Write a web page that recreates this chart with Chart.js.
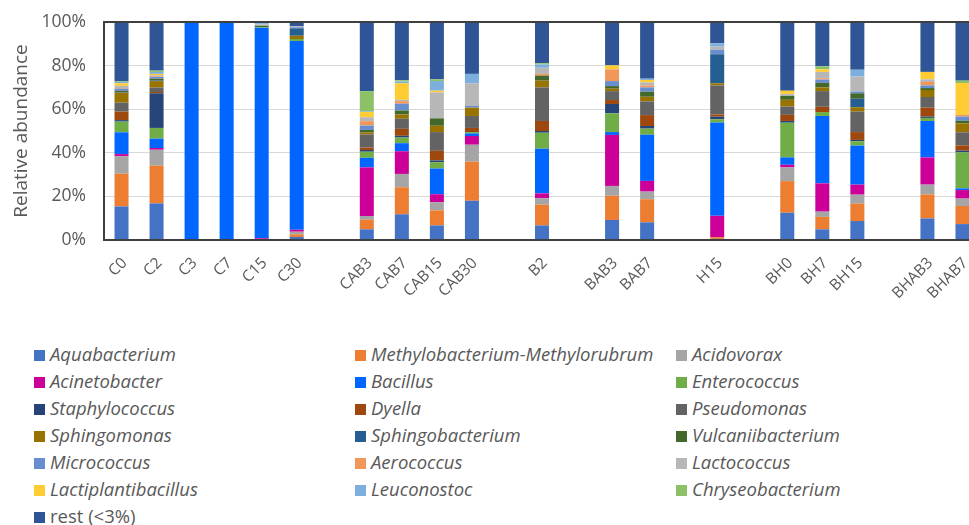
<!DOCTYPE html>
<html>
<head>
<meta charset="utf-8">
<script src="https://cdn.jsdelivr.net/npm/chart.js@4"></script>
<style>
  html, body { margin:0; padding:0; background:#ffffff; width:969px; height:525px; overflow:hidden; }
  #wrap { position:absolute; left:0; top:0; width:985px; height:330px; }
  #legend { position:absolute; left:0; top:340px; width:969px; font-family:"Open Sans", sans-serif; font-size:18.5px; color:#595959; }
  .item { position:absolute; height:27px; line-height:27px; white-space:nowrap; font-style:italic; }
  .item.plain { font-style:normal; }
  .box { display:inline-block; width:11px; height:11px; margin-right:5px; vertical-align:0px; }
</style>
</head>
<body>
<div id="wrap"><canvas id="c" width="985" height="330"></canvas></div>
<div id="legend"></div>
<script>
// categories ("" = empty gap slot)
const categories = ["C0","C2","C3","C7","C15","C30","","CAB3","CAB7","CAB15","CAB30","","B2","","BAB3","BAB7","","H15","","BH0","BH7","BH15","","BHAB3","BHAB7"];
const yTicks = [0,20,40,60,80,100];

const aquabacterium       = [15.4,16.8,0,0,0,1.4,null,4.9,11.8,6.7,18,null,6.7,null,9.2,8.1,null,0.5,null,12.5,4.9,8.7,null,9.9,7.3];
const methylobacterium    = [15,17.3,0.3,0,0,1.2,null,4.4,12.4,6.9,17.9,null,9.5,null,11.1,10.6,null,0.8,null,14.5,5.7,8,null,11,8.3];
const acidovorax          = [8,7.3,0,0,0,1.2,null,1.7,6.1,3.7,7.8,null,2.9,null,4.5,3.5,null,0,null,6.3,2.4,4.1,null,4.5,3.4];
const acinetobacter       = [1,0.8,0,0,0.8,0.9,null,22.3,10.4,3.7,4,null,2.3,null,23.4,4.9,null,9.8,null,1.2,13,4.6,null,12.5,3.9];
const bacillus            = [10,4.3,99.3,99.8,96.6,86.6,null,4.4,3.7,11.8,1.2,null,20.5,null,1.3,21.2,null,42.8,null,3.4,30.9,17.9,null,16.7,0.8];
const enterococcus        = [4.9,4.9,0,0,0.3,0.9,null,2.8,2.6,2.9,0.6,null,7.3,null,8.6,2.8,null,1.5,null,15.9,1.8,2,null,1.4,16.5];
const staphylococcus      = [0.7,15.9,0,0,0,0,null,0.8,0.8,0.8,0,null,0.8,null,4.3,1.2,null,1.2,null,0.8,0,0.6,null,0.6,0.8];
const dyella              = [3.9,0.6,0,0,0,0,null,1.1,3.2,4.4,1.9,null,4.6,null,1.8,5,null,1,null,2.8,2.4,3.6,null,4.1,2.4];
const pseudomonas         = [4.1,2,0,0,0,0,null,6,4.6,8.6,5.5,null,15.4,null,4.1,6.3,null,13.3,null,3.8,7.2,9.4,null,4.9,6];
const sphingomonas        = [4.6,3,0,0,0,1.5,null,0.9,2,2.9,3.8,null,3.1,null,1.1,2.1,null,1,null,3.1,1.7,2,null,3.2,4.1];
const sphingobacterium    = [0.3,0.3,0,0,0,3.4,null,0,0,0,0,null,0,null,0,0,null,13.3,null,0,0,3.9,null,0,0];
const vulcaniibacterium   = [0.5,0.8,0,0,0.6,0,null,1.2,1.8,3.4,0,null,2.3,null,1.2,2.3,null,0,null,1.8,2.1,2.5,null,0.9,1.2];
const micrococcus         = [1,0.8,0,0,0,0.5,null,2,3.1,0,0.8,null,0,null,2.3,2,null,2,null,0,1.5,0.8,null,1.2,1.9];
const aerococcus          = [0.3,0.3,0,0,0,0,null,2,1.2,0,0,null,0.8,null,5.4,0.9,null,0,null,0,0.6,0,null,1.6,0.8];
const lactococcus         = [1,0.5,0,0,0.6,0.5,null,1.8,0.6,11.9,10.4,null,2.8,null,0,1.4,null,1.5,null,0.9,2.9,6.9,null,1.2,0];
const lactiplantibacillus = [1.2,0.6,0,0,0,0,null,2.4,7.6,0.8,0,null,0,null,1.8,1.1,null,0,null,1.5,1.2,0,null,3.4,14.6];
const leuconostoc         = [0.6,0.9,0,0,0.5,0,null,0.3,0.8,4.4,4.3,null,1.5,null,0,0.6,null,1.5,null,0,0,3.1,null,0,0];
const chryseobacterium    = [0.3,0.6,0,0,0,0,null,9.3,0.6,0.8,0,null,0.6,null,0,0,null,0,null,0,1.4,0,null,0,1.1];
const rest                = [27.2,22.3,0.4,0.2,0.6,1.9,null,31.7,26.7,26.3,23.8,null,18.9,null,19.9,26,null,9.8,null,31.5,20.3,21.9,null,22.9,26.9];

const series = [
  ["Aquabacterium", aquabacterium, "#4472C4"],
  ["Methylobacterium-Methylorubrum", methylobacterium, "#ED7D31"],
  ["Acidovorax", acidovorax, "#A5A5A5"],
  ["Acinetobacter", acinetobacter, "#CC0099"],
  ["Bacillus", bacillus, "#0066FF"],
  ["Enterococcus", enterococcus, "#70AD47"],
  ["Staphylococcus", staphylococcus, "#264478"],
  ["Dyella", dyella, "#9E480E"],
  ["Pseudomonas", pseudomonas, "#636363"],
  ["Sphingomonas", sphingomonas, "#997300"],
  ["Sphingobacterium", sphingobacterium, "#255E91"],
  ["Vulcaniibacterium", vulcaniibacterium, "#43682B"],
  ["Micrococcus", micrococcus, "#698ED0"],
  ["Aerococcus", aerococcus, "#F1975A"],
  ["Lactococcus", lactococcus, "#B7B7B7"],
  ["Lactiplantibacillus", lactiplantibacillus, "#FFCD33"],
  ["Leuconostoc", leuconostoc, "#7CAFDD"],
  ["Chryseobacterium", chryseobacterium, "#8CC168"],
  ["rest (<3%)", rest, "#2F5597"]
];

// dark plot-area frame (Excel style)
const framePlugin = {
  id: 'plotFrame',
  afterDatasetsDraw(chart) {
    const a = chart.chartArea, ctx = chart.ctx;
    ctx.save();
    ctx.beginPath();
    ctx.strokeStyle = '#3F3F3F';
    ctx.lineWidth = 2;
    ctx.rect(a.left, a.top, a.right - a.left, a.bottom - a.top);
    ctx.stroke();
    ctx.restore();
  }
};

const FONT = '"Open Sans", sans-serif';
const chart = new Chart(document.getElementById('c'), {
  type: 'bar',
  data: {
    labels: categories,
    datasets: series.map(s => ({
      label: s[0], data: s[1], backgroundColor: s[2], borderWidth: 0,
      barPercentage: 0.4, categoryPercentage: 1.0
    }))
  },
  options: {
    responsive: false,
    animation: false,
    devicePixelRatio: 1,
    layout: { padding: { top: 22, left: 0, right: 5, bottom: 0 } },
    plugins: { legend: { display: false }, tooltip: { enabled: false } },
    scales: {
      x: {
        stacked: true,
        grid: { display: false },
        border: { display: false },
        ticks: { autoSkip: false, maxRotation: 45, minRotation: 45, color: '#595959', font: { family: FONT, size: 15.5 }, padding: 6, labelOffset: 3 },
        afterFit(scale) { scale.height = 90; }
      },
      y: {
        stacked: true,
        min: 0, max: 100,
        afterBuildTicks(scale) { scale.ticks = yTicks.map(v => ({ value: v })); },
        grid: { color: '#D9D9D9', lineWidth: 1, drawTicks: false },
        border: { display: false },
        ticks: { color: '#595959', font: { family: FONT, size: 17.5 }, padding: 18, callback: v => v + '%' },
        title: { display: true, text: 'Relative abundance', color: '#595959', font: { family: FONT, size: 19 }, padding: { top: 10, bottom: 0 } },
        afterFit(scale) { scale.width = 104; scale.paddingTop = 0; scale.paddingBottom = 0; }
      }
    }
  },
  plugins: [framePlugin]
});

// HTML legend built from the chart's datasets (3 columns, row-major)
const colX = [34, 355, 676];
const leg = document.getElementById('legend');
chart.data.datasets.forEach((ds, i) => {
  const el = document.createElement('div');
  el.className = 'item' + (ds.label.startsWith('rest') ? ' plain' : '');
  el.style.left = colX[i % 3] + 'px';
  el.style.top = (Math.floor(i / 3) * 27) + 'px';
  const b = document.createElement('span');
  b.className = 'box';
  b.style.background = ds.backgroundColor;
  el.appendChild(b);
  el.appendChild(document.createTextNode(ds.label));
  leg.appendChild(el);
});
</script>
</body>
</html>
